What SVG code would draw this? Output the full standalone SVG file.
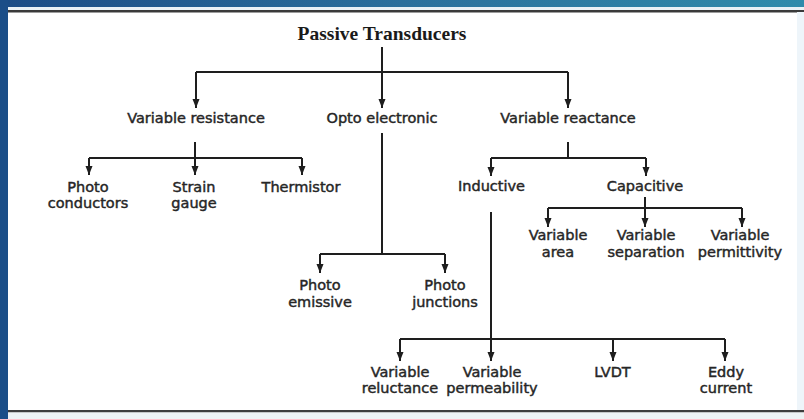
<svg xmlns="http://www.w3.org/2000/svg" width="804" height="419" viewBox="0 0 804 419">
<defs>
<linearGradient id="topband" x1="0" y1="0" x2="1" y2="0">
<stop offset="0" stop-color="#1b4c86"/>
<stop offset="0.5" stop-color="#2a6f9c"/>
<stop offset="1" stop-color="#2f8bab"/>
</linearGradient>
<marker id="arr" markerUnits="userSpaceOnUse" markerWidth="10" markerHeight="8" refX="9" refY="3.5" orient="auto">
<path d="M0,0 L9,3.5 L0,7 z" fill="#1e1e1e"/>
</marker>
<style>
.lbl{font-family:"DejaVu Sans","Liberation Sans",sans-serif;font-size:14.5px;fill:#262626;text-anchor:middle;stroke:#262626;stroke-width:0.45}
.ttl{font-family:"Liberation Serif","Times New Roman",serif;font-size:19.5px;font-weight:bold;fill:#1a1a1a;text-anchor:middle}
.ln{fill:none;stroke:#1e1e1e;stroke-width:2}
.ar{fill:none;stroke:#1e1e1e;stroke-width:2;marker-end:url(#arr)}
</style>
</defs>
<rect x="0" y="0" width="804" height="419" fill="#ffffff"/>
<rect x="0" y="0" width="804" height="7" fill="url(#topband)"/>
<rect x="0" y="7" width="804" height="3" fill="#e9f1f6"/>
<rect x="8" y="10" width="796" height="2.5" fill="#3a3a3a"/>
<rect x="797" y="12" width="7" height="398" fill="#eef5fa"/>
<rect x="8" y="410" width="796" height="2.5" fill="#3d3d3d"/>
<rect x="8" y="412.5" width="796" height="6.5" fill="#edf2f4"/>
<rect x="0" y="0" width="8" height="419" fill="#1b4e88"/>

<g id="connectors">
<path class="ln" d="M382,47 V72 M196,72 H568"/>
<path class="ar" d="M196,72 V108"/>
<path class="ar" d="M382,72 V108"/>
<path class="ar" d="M568,72 V108"/>

<path class="ln" d="M195,142 V158 M89,158 H302"/>
<path class="ar" d="M89,158 V175"/>
<path class="ar" d="M195,158 V175"/>
<path class="ar" d="M302,158 V175"/>

<path class="ln" d="M382,133 V254 M320,254 H445"/>
<path class="ar" d="M320,254 V273"/>
<path class="ar" d="M445,254 V273"/>

<path class="ln" d="M568,142 V158 M491,158 H646"/>
<path class="ar" d="M491,158 V176"/>
<path class="ar" d="M646,158 V176"/>

<path class="ln" d="M645,197 V208 M548,208 H742"/>
<path class="ar" d="M548,208 V227"/>
<path class="ar" d="M645,208 V227"/>
<path class="ar" d="M742,208 V227"/>

<path class="ln" d="M491,212 V339 M400,339 H725"/>
<path class="ar" d="M400,339 V361"/>
<path class="ar" d="M491,339 V361"/>
<path class="ar" d="M613,339 V361"/>
<path class="ar" d="M725,339 V361"/>
</g>

<g id="passive-transducers"><text class="ttl" x="382" y="40">Passive Transducers</text></g>
<g id="variable-resistance"><text class="lbl" x="196" y="123">Variable resistance</text></g>
<g id="opto-electronic"><text class="lbl" x="382" y="123">Opto electronic</text></g>
<g id="variable-reactance"><text class="lbl" x="568" y="123">Variable reactance</text></g>
<g id="photo-conductors"><text class="lbl" x="88" y="191.5">Photo</text><text class="lbl" x="88" y="207.5">conductors</text></g>
<g id="strain-gauge"><text class="lbl" x="194" y="191.5">Strain</text><text class="lbl" x="194" y="207.5">gauge</text></g>
<g id="thermistor"><text class="lbl" x="301" y="191.5">Thermistor</text></g>
<g id="inductive"><text class="lbl" x="491.5" y="191">Inductive</text></g>
<g id="capacitive"><text class="lbl" x="645" y="191">Capacitive</text></g>
<g id="variable-area"><text class="lbl" x="558" y="240">Variable</text><text class="lbl" x="558" y="256.5">area</text></g>
<g id="variable-separation"><text class="lbl" x="646" y="240">Variable</text><text class="lbl" x="646" y="256.5">separation</text></g>
<g id="variable-permittivity"><text class="lbl" x="740" y="240">Variable</text><text class="lbl" x="740" y="256.5">permittivity</text></g>
<g id="photo-emissive"><text class="lbl" x="320" y="290">Photo</text><text class="lbl" x="320" y="306.5">emissive</text></g>
<g id="photo-junctions"><text class="lbl" x="445" y="290">Photo</text><text class="lbl" x="445" y="306.5">junctions</text></g>
<g id="variable-reluctance"><text class="lbl" x="400" y="376.5">Variable</text><text class="lbl" x="400" y="393">reluctance</text></g>
<g id="variable-permeability"><text class="lbl" x="492" y="376.5">Variable</text><text class="lbl" x="492" y="393">permeability</text></g>
<g id="lvdt"><text class="lbl" x="612.5" y="376.5">LVDT</text></g>
<g id="eddy-current"><text class="lbl" x="726" y="376.5">Eddy</text><text class="lbl" x="726" y="393">current</text></g>
</svg>
